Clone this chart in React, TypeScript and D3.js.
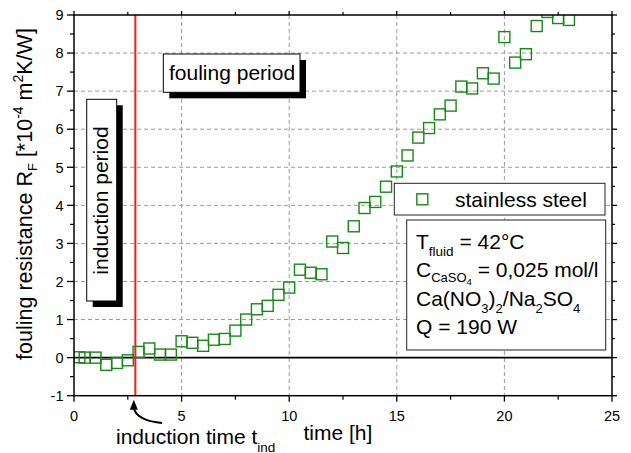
import React from "react";
import * as d3 from "d3";

const times = [0.25, 0.5, 1.0, 1.5, 2.0, 2.5, 3.0, 3.5, 4.0, 4.5, 5.0, 5.5, 6.0, 6.5, 7.0, 7.5, 8.0, 8.5, 9.0, 9.5, 10.0, 10.5, 11.0, 11.5, 12.0, 12.5, 13.0, 13.5, 14.0, 14.5, 15.0, 15.5, 16.0, 16.5, 17.0, 17.5, 18.0, 18.5, 19.0, 19.5, 20.0, 20.5, 21.0, 21.5, 22.0, 22.5, 23.0];
const resistance = [0.01, 0.0, 0.0, -0.19, -0.14, -0.07, 0.15, 0.24, 0.08, 0.08, 0.43, 0.39, 0.31, 0.47, 0.49, 0.71, 1.0, 1.27, 1.36, 1.65, 1.84, 2.31, 2.23, 2.19, 3.05, 2.88, 3.45, 3.93, 4.09, 4.49, 4.89, 5.31, 5.78, 6.03, 6.39, 6.62, 7.12, 7.07, 7.47, 7.33, 8.42, 7.75, 7.97, 8.71, 9.08, 8.92, 8.87];
const xTicks = [0, 5, 10, 15, 20, 25];
const yTicks = [-1, 0, 1, 2, 3, 4, 5, 6, 7, 8, 9];
const xGrid = [5, 10, 15, 20];
const yGrid = [1, 2, 3, 4, 5, 6, 7, 8];
const inductionTime = 2.85;
const seriesName = "stainless steel";

const FONT = "'Liberation Sans', Arial, Helvetica, sans-serif";
const GREEN = "#168a16";

export default function App() {
  const x = d3.scaleLinear().domain([0, 25]).range([74, 612]);
  const y = d3.scaleLinear().domain([-1, 9]).range([395.7, 15]);
  const [x0, x1] = x.range();
  const [y0, y1] = y.range();
  const xMinor = d3.range(0, 25.01, 2.5).filter((v) => !xTicks.includes(v));
  const yMinor = d3.range(-1, 9.01, 0.5).filter((v) => !yTicks.includes(v));
  const data = times.map((t, i) => ({ t, v: resistance[i] }));
  const s = 11;
  const xr = x(inductionTime);
  const tipX = xr - 1.5;
  const tipY = y(-1) + 4;

  return (
    <svg width={631} height={453} style={{ position: "absolute", left: 0, top: 0, background: "#fff" }} fontFamily={FONT}>
      <defs>
        <clipPath id="plot">
          <rect x={x0} y={y1} width={x1 - x0} height={y0 - y1} />
        </clipPath>
      </defs>
      <rect x={0} y={0} width={631} height={453} fill="#fff" />
      {/* grid */}
      {xGrid.map((v) => (
        <line key={"gx" + v} x1={x(v)} x2={x(v)} y1={y1} y2={y0} stroke="#9a9a9a" strokeDasharray="4,3" strokeWidth={1} />
      ))}
      {yGrid.map((v) => (
        <line key={"gy" + v} x1={x0} x2={x1} y1={y(v)} y2={y(v)} stroke="#9a9a9a" strokeDasharray="4,3" strokeWidth={1} />
      ))}
      {/* zero line */}
      <line x1={x0} x2={x1} y1={y(0)} y2={y(0)} stroke="#000" strokeWidth={1.6} />

      {/* induction period box */}
      <rect x={92.7} y={105.3} width={30} height={201.7} fill="#000" />
      <rect x={86.7} y={99.3} width={30} height={201.7} fill="#fff" stroke="#000" strokeWidth={1} />
      <text transform="translate(108.3,200.5) rotate(-90)" textAnchor="middle" fontSize={21} fill="#000">induction period</text>

      {/* fouling period box */}
      <rect x={169.3} y={60} width={136.7} height={38.3} fill="#000" />
      <rect x={163.3} y={54} width={136.7} height={38.3} fill="#fff" stroke="#000" strokeWidth={1} />
      <text x={169} y={79.5} fontSize={21} fill="#000">fouling period</text>

      {/* red induction line */}
      <line x1={xr} x2={xr} y1={y1} y2={y0} stroke="#ff1a1a" strokeWidth={2} />

      {/* data */}
      <g clipPath="url(#plot)">
        {data.map((d, i) => (
          <rect key={i} x={x(d.t) - s / 2} y={y(d.v) - s / 2} width={s} height={s} fill="none" stroke={GREEN} strokeWidth={1.4} />
        ))}
      </g>

      {/* legend */}
      <rect x={394.3} y={183.3} width={210.7} height={31.7} fill="#fff" stroke="#222" strokeWidth={1} />
      <rect x={422.3 - s / 2} y={199.3 - s / 2} width={s} height={s} fill="none" stroke={GREEN} strokeWidth={1.4} />
      <text x={455} y={206.5} fontSize={21} fill="#000">{seriesName}</text>

      {/* info box */}
      <rect x={406.7} y={220} width={199} height={130} fill="#fff" stroke="#222" strokeWidth={1} />
      <g fontSize={21} fill="#000">
        <text x={416} y={249}>
          T<tspan dy={7} fontSize={13.5}>fluid</tspan><tspan dy={-7}> = 42°C</tspan>
        </text>
        <text x={416} y={277.3}>
          C<tspan dy={5} fontSize={13}>CaSO</tspan><tspan dy={3} fontSize={9.5}>4</tspan><tspan dy={-8}> = 0,025 mol/l</tspan>
        </text>
        <text x={416} y={305.7}>
          Ca(NO<tspan dy={7} fontSize={13}>3</tspan><tspan dy={-7}>)</tspan><tspan dy={7} fontSize={13}>2</tspan><tspan dy={-7}>/Na</tspan><tspan dy={7} fontSize={13}>2</tspan><tspan dy={-7}>SO</tspan><tspan dy={7} fontSize={13}>4</tspan>
        </text>
        <text x={416} y={334}>Q = 190 W</text>
      </g>

      {/* frame */}
      <rect x={x0} y={y1} width={x1 - x0} height={y0 - y1} fill="none" stroke="#000" strokeWidth={1.5} />

      {/* ticks left */}
      {yTicks.map((v) => (
        <g key={"yt" + v}>
          <line x1={x0 - 7} x2={x0} y1={y(v)} y2={y(v)} stroke="#000" strokeWidth={1.3} />
          <line x1={x1} x2={x1 + 5} y1={y(v)} y2={y(v)} stroke="#000" strokeWidth={1.3} />
          <text x={63.5} y={y(v)} dy="0.36em" textAnchor="end" fontSize={14.5} fill="#000">{v}</text>
        </g>
      ))}
      {yMinor.map((v) => (
        <g key={"ym" + v}>
          <line x1={x0 - 4} x2={x0} y1={y(v)} y2={y(v)} stroke="#000" strokeWidth={1.2} />
          <line x1={x1} x2={x1 + 3} y1={y(v)} y2={y(v)} stroke="#000" strokeWidth={1.2} />
        </g>
      ))}
      {/* ticks bottom */}
      {xTicks.map((v) => (
        <g key={"xt" + v}>
          <line x1={x(v)} x2={x(v)} y1={y0} y2={y0 + 6} stroke="#000" strokeWidth={1.3} />
          <line x1={x(v)} x2={x(v)} y1={y1} y2={y1 - 4} stroke="#000" strokeWidth={1.3} />
          <text x={x(v)} y={420.5} textAnchor="middle" fontSize={14.5} fill="#000">{v}</text>
        </g>
      ))}
      {xMinor.map((v) => (
        <g key={"xm" + v}>
          <line x1={x(v)} x2={x(v)} y1={y0} y2={y0 + 4} stroke="#000" strokeWidth={1.2} />
          <line x1={x(v)} x2={x(v)} y1={y1} y2={y1 - 3} stroke="#000" strokeWidth={1.2} />
        </g>
      ))}

      {/* axis titles */}
      <text transform="translate(32,194) rotate(-90)" textAnchor="middle" fontSize={21.5} fill="#000">
        fouling resistance R<tspan dy={5} fontSize={13}>F</tspan><tspan dy={-5}> [*10</tspan><tspan dy={-9} fontSize={14}>-4</tspan><tspan dy={9}> m</tspan><tspan dy={-9} fontSize={14}>2</tspan><tspan dy={9}>K/W]</tspan>
      </text>
      <text x={303.5} y={440} fontSize={21} fill="#000">time [h]</text>
      <text x={116} y={444} fontSize={21} fill="#000">
        induction time t<tspan dy={7.5} fontSize={13.5}>ind</tspan>
      </text>

      {/* arrow */}
      <path d={`M 162 423 C 148 422, ${tipX + 1} 417, ${tipX} ${tipY + 8}`} fill="none" stroke="#000" strokeWidth={2} />
      <polygon points={`${tipX},${tipY} ${tipX - 4},${tipY + 10} ${tipX + 4},${tipY + 10}`} fill="#000" />
    </svg>
  );
}
